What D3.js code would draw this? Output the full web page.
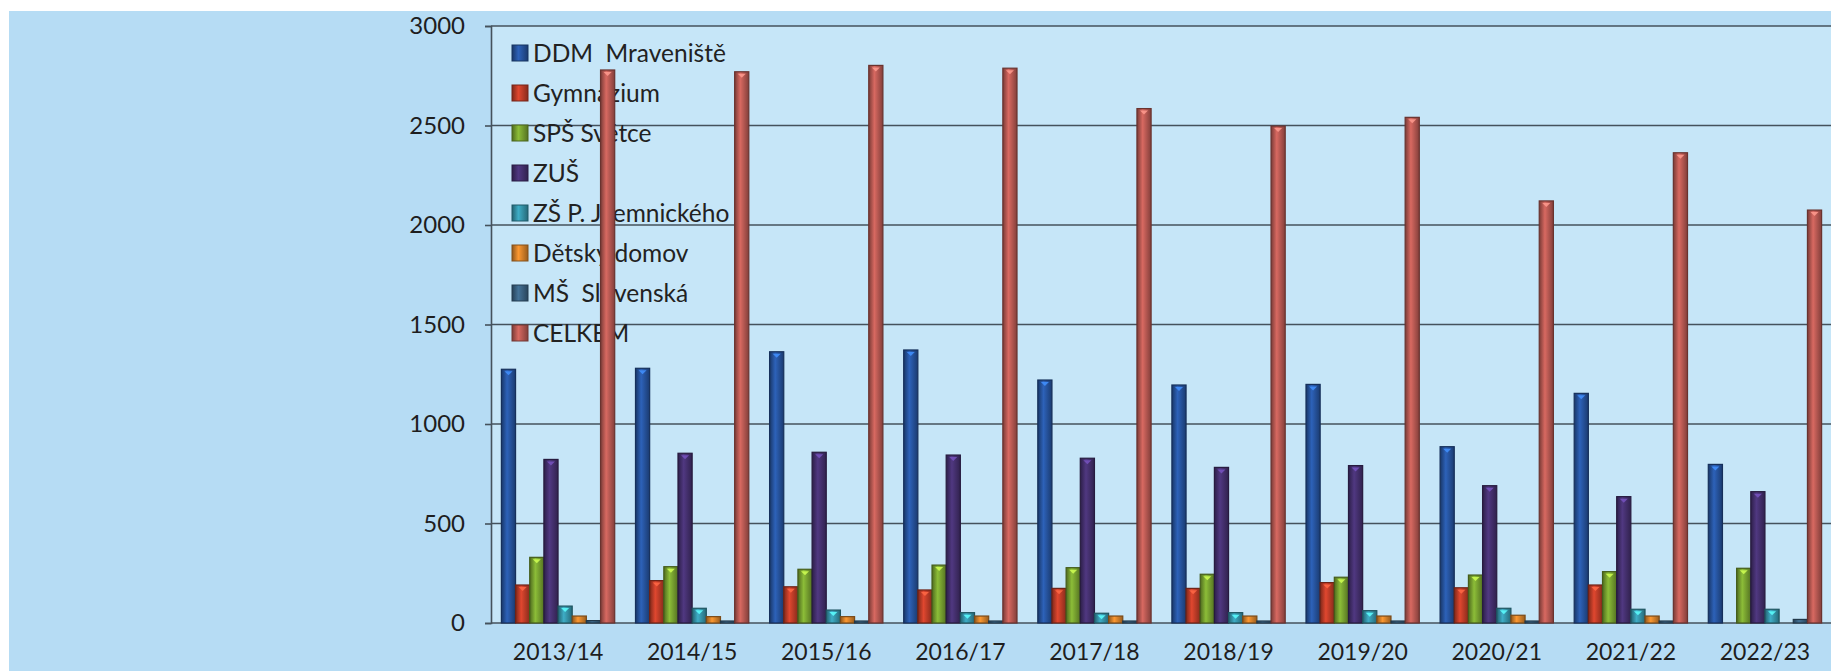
<!DOCTYPE html>
<meta charset="utf-8">
<style>
  body { margin: 0; background: #fff; }
  text { font-family: Lato, "Open Sans", sans-serif; }
</style>
<script src="https://d3js.org/d3.v7.min.js"></script>
<div id="chart"></div>
<script>

// school years on the x axis
var categories = ["2013/14", "2014/15", "2015/16", "2016/17", "2017/18",
                  "2018/19", "2019/20", "2020/21", "2021/22", "2022/23"];

var seriesNames = ["DDM  Mraveniště", "Gymnázium", "SPŠ Světce", "ZUŠ",
                   "ZŠ P. Jilemnického", "Dětský domov", "MŠ  Slovenská", "CELKEM"];

// values (null = no bar)
var ddm        = [1275, 1280, 1363, 1372, 1221, 1196, 1199, 886, 1154, 797];
var gymnazium  = [191, 213, 182, 166, 174, 174, 203, 177, 191, null];
var sps        = [330, 283, 270, 291, 278, 245, 230, 241, 258, 275];
var zus        = [822, 853, 858, 844, 828, 782, 791, 690, 635, 660];
var zs         = [85, 74, 65, 52, 49, 52, 62, 74, 69, 69];
var detskyDomov = [35, 32, 32, 35, 35, 35, 35, 39, 35, null];
var ms         = [12, 10, 10, 10, 10, 10, 10, 10, 10, 18];
var celkem     = [2779, 2770, 2802, 2788, 2585, 2497, 2541, 2121, 2363, 2075];

var yTicks = [0, 500, 1000, 1500, 2000, 2500, 3000];

var seriesValues = [ddm, gymnazium, sps, zus, zs, detskyDomov, ms, celkem];
var colors = ["#2858a6", "#c9402a", "#7eaa32", "#483274", "#389bb2", "#e2892c", "#3d6688", "#c25e57"];

var W = 1831, H = 671;
var plot = {left: 491, right: 1832, top: 26, bottom: 623};

var svg = d3.select("#chart").append("svg")
    .attr("width", W)
    .attr("height", H);

// gradients to give the bars their rounded look
var defs = svg.append("defs");
colors.forEach(function(c, i) {
  var g = defs.append("linearGradient")
      .attr("id", "grad" + i)
      .attr("x1", "0%").attr("x2", "100%").attr("y1", "0%").attr("y2", "0%");
  g.append("stop").attr("offset", "0%").attr("stop-color", d3.color(c).darker(1.3));
  g.append("stop").attr("offset", "40%").attr("stop-color", d3.color(c).brighter(0.3));
  g.append("stop").attr("offset", "100%").attr("stop-color", d3.color(c).darker(1.1));
});

// backgrounds
svg.append("rect")
    .attr("x", 9).attr("y", 11)
    .attr("width", W - 9).attr("height", H - 11)
    .attr("fill", "#b6dcf4");
svg.append("rect")
    .attr("x", plot.left).attr("y", plot.top)
    .attr("width", plot.right - plot.left).attr("height", plot.bottom - plot.top)
    .attr("fill", "#c6e6f8");

// scales
var x0 = d3.scaleBand()
    .domain(categories)
    .range([plot.left, plot.right])
    .paddingInner(0.155)
    .paddingOuter(0.0775);

var x1 = d3.scaleBand()
    .domain(seriesNames)
    .range([0, x0.bandwidth()]);

var y = d3.scaleLinear()
    .domain([0, 3000])
    .range([plot.bottom, plot.top]);

// gridlines
svg.append("g")
  .selectAll("line")
  .data(yTicks)
  .enter()
  .append("line")
    .attr("x1", plot.left).attr("x2", plot.right)
    .attr("y1", function(d) { return y(d); })
    .attr("y2", function(d) { return y(d); })
    .attr("stroke", "#45525c")
    .attr("stroke-width", 1.6);

// y axis
var yAxis = svg.append("g")
    .attr("transform", "translate(" + plot.left + ",0)")
    .call(d3.axisLeft(y).tickValues(yTicks).tickFormat(d3.format("d")).tickSize(6).tickPadding(20));
yAxis.selectAll("path, line").attr("stroke", "#45525c").attr("stroke-width", 1.6);
yAxis.selectAll("text")
    .attr("fill", "#1e1e1e")
    .style("font-size", "24px");

// x labels
var xAxis = svg.append("g")
    .attr("transform", "translate(0," + plot.bottom + ")")
    .call(d3.axisBottom(x0).tickSize(0).tickPadding(21));
xAxis.select(".domain").remove();
xAxis.selectAll("text")
    .attr("fill", "#1e1e1e")
    .style("font-size", "23px");

// legend (drawn under the bars)
var legend = svg.append("g");
var leg = legend.selectAll("g")
    .data(seriesNames)
    .enter()
    .append("g")
    .attr("transform", function(d, i) { return "translate(512," + (45 + i * 40) + ")"; });
leg.append("rect")
    .attr("width", 16).attr("height", 16)
    .attr("fill", function(d, i) { return "url(#grad" + i + ")"; })
    .attr("stroke", function(d, i) { return d3.color(colors[i]).darker(1.5); })
    .attr("stroke-width", 1);
leg.append("text")
    .attr("x", 21)
    .attr("y", 8)
    .attr("dy", "0.36em")
    .attr("fill", "#222")
    .style("font-size", "24.5px")
    .style("white-space", "pre")
    .text(function(d) { return d; });

// bars
var groups = svg.append("g")
  .selectAll("g")
  .data(categories)
  .enter()
  .append("g")
    .attr("transform", function(d) { return "translate(" + x0(d) + ",0)"; });

groups.selectAll("rect")
  .data(function(d, ci) {
    return seriesNames.map(function(s, si) {
      return {key: s, idx: si, value: seriesValues[si][ci]};
    }).filter(function(e) { return e.value != null; });
  })
  .enter()
  .append("rect")
    .attr("x", function(d) { return x1(d.key); })
    .attr("y", function(d) { return y(d.value); })
    .attr("width", x1.bandwidth())
    .attr("height", function(d) { return y(0) - y(d.value); })
    .attr("fill", function(d) { return "url(#grad" + d.idx + ")"; })
    .attr("stroke", function(d) { return d3.color(colors[d.idx]).darker(1.7); })
    .attr("stroke-width", 1.2);

// little light bevel on top of each bar
groups.selectAll("path")
  .data(function(d, ci) {
    return seriesNames.map(function(s, si) {
      return {key: s, idx: si, value: seriesValues[si][ci]};
    }).filter(function(e) { return e.value != null && y(0) - y(e.value) > 8; });
  })
  .enter()
  .append("path")
    .attr("d", function(d) {
      var cx = x1(d.key) + x1.bandwidth() / 2, t = y(d.value);
      return "M" + (cx - 4) + "," + (t + 2) + "L" + (cx + 4) + "," + (t + 2) + "L" + cx + "," + (t + 6) + "Z";
    })
    .attr("fill", function(d) { return d3.color(colors[d.idx]).brighter(1.4); })
    .attr("opacity", 0.85);

</script>
